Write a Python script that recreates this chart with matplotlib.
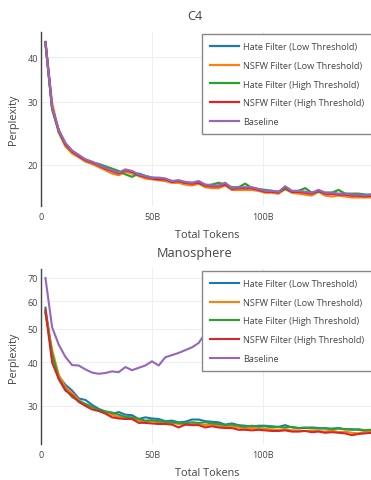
import matplotlib
matplotlib.use("Agg")
import matplotlib.pyplot as plt
from matplotlib.ticker import FixedLocator, FixedFormatter, NullLocator

plt.rcParams['font.family'] = ['Open Sans', 'DejaVu Sans']

tokens_b = [2, 5, 8, 11, 14, 17, 20, 23, 26, 29, 32, 35, 38, 41, 44, 47, 50, 53, 56, 59,
            62, 65, 68, 71, 74, 77, 80, 83, 86, 89, 92, 95, 98, 101, 104, 107, 110, 113, 116, 119,
            122, 125, 128, 131, 134, 137, 140, 143, 146, 149]

series_names = ["Hate Filter (Low Threshold)", "NSFW Filter (Low Threshold)",
                "Hate Filter (High Threshold)", "NSFW Filter (High Threshold)", "Baseline"]
colors = ["#1f77b4", "#ff7f0e", "#2ca02c", "#d62728", "#9467bd"]

# C4 perplexity
c4_hate_low = [44.0, 28.8, 24.9, 22.9, 21.8, 21.2, 20.6, 20.3, 19.9, 19.6, 19.2, 18.9, 19.2, 19.1, 18.7, 18.5, 18.3, 18.3, 18.2, 17.9,
               18.0, 17.8, 17.7, 17.9, 17.5, 17.4, 17.4, 17.7, 17.1, 17.2, 17.2, 17.2, 17.0, 16.8, 16.8, 16.7, 17.2, 16.8, 16.8, 16.7,
               16.6, 16.9, 16.6, 16.6, 16.5, 16.5, 16.4, 16.4, 16.3, 16.4]
c4_nsfw_low = [43.5, 29.8, 24.6, 22.5, 21.5, 21.0, 20.4, 20.1, 19.7, 19.3, 18.9, 18.7, 19.1, 18.9, 18.6, 18.3, 18.2, 18.1, 18.0, 17.8,
               17.8, 17.6, 17.5, 17.7, 17.3, 17.2, 17.2, 17.5, 17.0, 17.0, 17.0, 17.0, 16.9, 16.7, 16.7, 16.6, 17.1, 16.7, 16.6, 16.5,
               16.4, 16.8, 16.4, 16.3, 16.4, 16.3, 16.2, 16.2, 16.2, 16.2]
c4_hate_high = [44.0, 28.6, 24.7, 22.8, 21.8, 21.2, 20.6, 20.3, 20.1, 19.8, 19.5, 19.2, 18.8, 18.5, 18.9, 18.6, 18.4, 18.3, 18.2, 18.0,
                18.0, 17.8, 17.8, 17.8, 17.5, 17.6, 17.8, 17.6, 17.3, 17.3, 17.7, 17.2, 17.1, 17.0, 16.9, 16.8, 17.1, 16.8, 16.9, 17.2,
                16.7, 16.8, 16.7, 16.7, 17.0, 16.6, 16.6, 16.6, 16.5, 16.5]
c4_nsfw_high = [44.1, 28.9, 24.9, 22.8, 21.8, 21.1, 20.6, 20.3, 19.9, 19.5, 19.2, 18.9, 19.3, 19.1, 18.7, 18.5, 18.3, 18.2, 18.2, 17.9,
                18.0, 17.8, 17.7, 17.8, 17.5, 17.4, 17.4, 17.6, 17.1, 17.2, 17.2, 17.2, 17.0, 16.8, 16.8, 16.7, 17.3, 16.8, 16.8, 16.7,
                16.6, 16.9, 16.6, 16.6, 16.5, 16.5, 16.4, 16.4, 16.3, 16.4]
c4_baseline = [44.0, 29.0, 25.0, 23.0, 21.9, 21.3, 20.7, 20.4, 20.0, 19.6, 19.3, 19.0, 19.4, 19.2, 18.8, 18.6, 18.4, 18.4, 18.3, 18.0,
               18.1, 17.9, 17.8, 18.0, 17.6, 17.5, 17.5, 17.8, 17.2, 17.3, 17.3, 17.3, 17.1, 16.9, 16.9, 16.8, 17.4, 16.9, 16.9, 16.8,
               16.7, 17.0, 16.7, 16.7, 16.6, 16.6, 16.5, 16.5, 16.4, 16.5]

# Manosphere perplexity
mano_hate_low = [57.5, 42.0, 36.5, 34.5, 33.2, 31.5, 31.2, 30.2, 29.4, 28.9, 28.4, 28.8, 28.3, 28.2, 27.5, 27.8, 27.6, 27.5, 27.1, 27.2,
                 26.9, 27.0, 27.4, 27.4, 27.1, 27.0, 26.9, 26.5, 26.7, 26.4, 26.3, 26.1, 26.3, 26.3, 26.2, 26.1, 26.4, 26.0, 25.9, 25.9,
                 26.0, 25.9, 25.8, 25.8, 25.9, 25.7, 25.7, 25.6, 25.5, 25.6]
mano_nsfw_low = [56.0, 43.5, 36.8, 34.0, 32.6, 31.2, 30.2, 29.8, 29.0, 28.7, 28.2, 27.9, 27.8, 27.6, 27.2, 27.0, 27.1, 26.9, 26.8, 26.8,
                 26.6, 26.5, 26.6, 26.6, 26.4, 26.5, 26.3, 26.1, 26.2, 26.0, 25.8, 25.9, 25.7, 25.8, 25.6, 25.6, 25.7, 25.5, 25.5, 25.4,
                 25.5, 25.4, 25.3, 25.5, 25.2, 25.3, 25.1, 25.0, 25.3, 25.4]
mano_hate_high = [55.5, 42.5, 36.0, 33.5, 31.8, 31.0, 30.4, 29.8, 29.2, 28.9, 28.7, 28.3, 27.9, 27.8, 27.5, 27.2, 27.3, 27.1, 27.0, 26.9,
                  26.8, 26.7, 26.9, 26.8, 26.9, 26.7, 26.6, 26.4, 26.5, 26.3, 26.1, 26.3, 26.1, 26.2, 26.0, 26.1, 26.0, 26.1, 25.9, 26.0,
                  25.9, 25.8, 25.9, 25.7, 25.8, 25.7, 25.6, 25.7, 25.5, 25.6]
mano_nsfw_high = [56.5, 40.0, 35.8, 33.2, 32.2, 30.8, 30.0, 29.3, 29.0, 28.5, 27.8, 27.6, 27.5, 27.5, 26.8, 26.8, 26.7, 26.6, 26.6, 26.5,
                  26.0, 26.5, 26.4, 26.4, 26.0, 26.2, 26.0, 25.9, 25.9, 25.6, 25.6, 25.5, 25.6, 25.5, 25.4, 25.4, 25.5, 25.3, 25.3, 25.4,
                  25.2, 25.3, 25.1, 25.2, 25.1, 25.0, 24.7, 24.9, 25.0, 25.1]
mano_baseline = [70.0, 50.5, 45.0, 41.5, 39.3, 39.2, 38.2, 37.4, 37.1, 37.3, 37.7, 37.5, 38.8, 38.0, 38.6, 39.2, 40.3, 39.2, 41.4, 42.0,
                 42.6, 43.4, 44.2, 45.5, 48.5, 49.5, 50.2, 51.0, 51.6, 52.3, 52.8, 53.4, 53.9, 54.5, 54.9, 55.4, 55.8, 56.3, 56.6, 57.0,
                 57.4, 57.7, 58.1, 58.4, 58.7, 59.0, 59.3, 59.5, 59.8, 60.0]

x_ticks = [0, 50, 100]
x_tick_labels = ["0", "50B", "100B"]
c4_y_ticks = [20, 30, 40]
mano_y_ticks = [30, 40, 50, 60, 70]

W, H = 371, 481
DPI = 100
fig = plt.figure(figsize=(W / DPI, H / DPI), dpi=DPI)
fig.patch.set_facecolor("white")

TXT = "#444444"


def px_axes(left, top, width, bottom):
    return fig.add_axes([left / W, (H - bottom) / H, width / W, (bottom - top) / H])


def style(ax, ylim, yticks, title, title_y, xlabel_y, ylabel_y, legend_top):
    ax.set_yscale("log")
    ax.set_xlim(0, 150)
    ax.set_ylim(*ylim)
    ax.yaxis.set_major_locator(FixedLocator(yticks))
    ax.yaxis.set_major_formatter(FixedFormatter([str(t) for t in yticks]))
    ax.yaxis.set_minor_locator(NullLocator())
    ax.set_xticks(x_ticks)
    ax.set_xticklabels(x_tick_labels)
    ax.tick_params(axis="both", length=0, labelsize=6.5, colors=TXT)
    ax.tick_params(axis="x", pad=4)
    ax.tick_params(axis="y", pad=2)
    ax.grid(True, color="#eeeeee", linewidth=0.8)
    ax.set_axisbelow(True)
    for s in ["top", "right", "bottom"]:
        ax.spines[s].set_visible(False)
    ax.spines["left"].set_color(TXT)
    ax.spines["left"].set_linewidth(1.0)
    fig.text(195 / W, 1 - title_y / H, title, ha="center", va="center", fontsize=9.2, color=TXT)
    fig.text(207 / W, 1 - xlabel_y / H, "Total Tokens", ha="center", va="center", fontsize=7.8, color=TXT)
    fig.text(14 / W, 1 - ylabel_y / H, "Perplexity", ha="center", va="center", rotation=90, fontsize=7.8, color=TXT)
    leg = ax.legend(loc="upper left", bbox_to_anchor=(202 / W, 1 - legend_top / H),
                    bbox_transform=fig.transFigure, fontsize=6.6, frameon=True, fancybox=False,
                    framealpha=1.0, edgecolor="#888888", handlelength=3.1, handletextpad=0.45,
                    labelspacing=1.05, borderpad=0.9, borderaxespad=0)
    leg.get_frame().set_linewidth(1.0)
    for t in leg.get_texts():
        t.set_color(TXT)
    leg.set_zorder(10)


ax1 = px_axes(41, 33, 333, 207)
for vals, name, c in zip([c4_hate_low, c4_nsfw_low, c4_hate_high, c4_nsfw_high, c4_baseline], series_names, colors):
    ax1.plot(tokens_b, vals, color=c, lw=1.6, label=name, solid_joinstyle="round")
style(ax1, (15.33, 47.0), c4_y_ticks, "C4", 16, 236, 120, 35)

ax2 = px_axes(41, 270, 333, 445)
for vals, name, c in zip([mano_hate_low, mano_nsfw_low, mano_hate_high, mano_nsfw_high, mano_baseline], series_names, colors):
    ax2.plot(tokens_b, vals, color=c, lw=1.5, label=name, solid_joinstyle="round")
style(ax2, (23.3, 74.3), mano_y_ticks, "Manosphere", 253, 474, 358, 272)

fig.savefig("out.png", dpi=DPI, facecolor="white")
